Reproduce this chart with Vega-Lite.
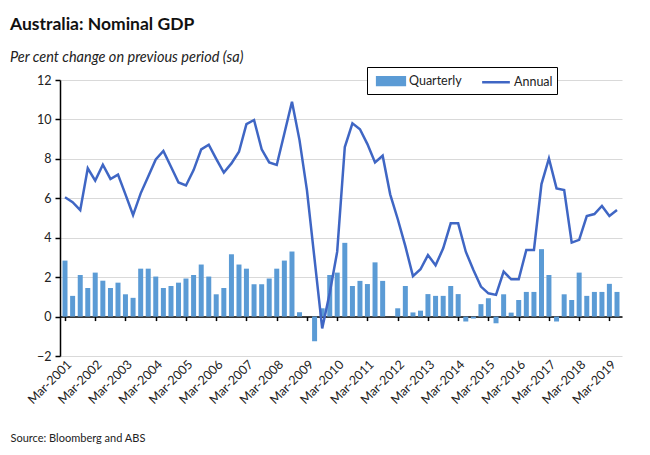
{
  "$schema": "https://vega.github.io/schema/vega-lite/v6.json",
  "autosize": "none",
  "width": 562,
  "height": 276,
  "padding": {"left": 60, "top": 80, "right": 28, "bottom": 99},
  "background": "white",
  "config": {
    "view": {"stroke": null},
    "font": "Lato"
  },
  "title": {
    "text": "Australia: Nominal GDP",
    "subtitle": "Per cent change on previous period (sa)",
    "anchor": "start",
    "frame": "group",
    "dx": -50,
    "offset": 2,
    "font": "Lato",
    "fontSize": 17.5,
    "fontWeight": "bold",
    "color": "#111111",
    "subtitleFont": "Lato",
    "subtitleFontSize": 14.5,
    "subtitleFontStyle": "italic",
    "subtitleColor": "#222222",
    "subtitlePadding": 18
  },
  "data": {
    "values": [
      {"date": "2001-03-01", "quarterly": 2.84, "annual": 6.05},
      {"date": "2001-06-01", "quarterly": 1.05, "annual": 5.8},
      {"date": "2001-09-01", "quarterly": 2.11, "annual": 5.4},
      {"date": "2001-12-01", "quarterly": 1.45, "annual": 7.52},
      {"date": "2002-03-01", "quarterly": 2.23, "annual": 6.9},
      {"date": "2002-06-01", "quarterly": 1.82, "annual": 7.7},
      {"date": "2002-09-01", "quarterly": 1.45, "annual": 6.98},
      {"date": "2002-12-01", "quarterly": 1.72, "annual": 7.2},
      {"date": "2003-03-01", "quarterly": 1.13, "annual": 6.2},
      {"date": "2003-06-01", "quarterly": 0.95, "annual": 5.15},
      {"date": "2003-09-01", "quarterly": 2.43, "annual": 6.25},
      {"date": "2003-12-01", "quarterly": 2.43, "annual": 7.1},
      {"date": "2004-03-01", "quarterly": 2.03, "annual": 7.97},
      {"date": "2004-06-01", "quarterly": 1.45, "annual": 8.4},
      {"date": "2004-09-01", "quarterly": 1.55, "annual": 7.6},
      {"date": "2004-12-01", "quarterly": 1.72, "annual": 6.8},
      {"date": "2005-03-01", "quarterly": 1.93, "annual": 6.65},
      {"date": "2005-06-01", "quarterly": 2.11, "annual": 7.43},
      {"date": "2005-09-01", "quarterly": 2.64, "annual": 8.48},
      {"date": "2005-12-01", "quarterly": 2.03, "annual": 8.72},
      {"date": "2006-03-01", "quarterly": 1.13, "annual": 8.0},
      {"date": "2006-06-01", "quarterly": 1.45, "annual": 7.3},
      {"date": "2006-09-01", "quarterly": 3.16, "annual": 7.77},
      {"date": "2006-12-01", "quarterly": 2.64, "annual": 8.36},
      {"date": "2007-03-01", "quarterly": 2.43, "annual": 9.76},
      {"date": "2007-06-01", "quarterly": 1.64, "annual": 9.97},
      {"date": "2007-09-01", "quarterly": 1.64, "annual": 8.48},
      {"date": "2007-12-01", "quarterly": 1.93, "annual": 7.82},
      {"date": "2008-03-01", "quarterly": 2.43, "annual": 7.69},
      {"date": "2008-06-01", "quarterly": 2.84, "annual": 9.29},
      {"date": "2008-09-01", "quarterly": 3.3, "annual": 10.9},
      {"date": "2008-12-01", "quarterly": 0.22, "annual": 8.95},
      {"date": "2009-03-01", "quarterly": 0.0, "annual": 6.4},
      {"date": "2009-06-01", "quarterly": -1.25, "annual": 2.9},
      {"date": "2009-09-01", "quarterly": 0.42, "annual": -0.6},
      {"date": "2009-12-01", "quarterly": 2.11, "annual": 1.2},
      {"date": "2010-03-01", "quarterly": 2.23, "annual": 3.29},
      {"date": "2010-06-01", "quarterly": 3.74, "annual": 8.6},
      {"date": "2010-09-01", "quarterly": 1.55, "annual": 9.8},
      {"date": "2010-12-01", "quarterly": 1.81, "annual": 9.5},
      {"date": "2011-03-01", "quarterly": 1.65, "annual": 8.75},
      {"date": "2011-06-01", "quarterly": 2.75, "annual": 7.82},
      {"date": "2011-09-01", "quarterly": 1.81, "annual": 8.16},
      {"date": "2011-12-01", "quarterly": 0.0, "annual": 6.2},
      {"date": "2012-03-01", "quarterly": 0.42, "annual": 4.95},
      {"date": "2012-06-01", "quarterly": 1.55, "annual": 3.57},
      {"date": "2012-09-01", "quarterly": 0.21, "annual": 2.05},
      {"date": "2012-12-01", "quarterly": 0.3, "annual": 2.4},
      {"date": "2013-03-01", "quarterly": 1.14, "annual": 3.12},
      {"date": "2013-06-01", "quarterly": 1.05, "annual": 2.6},
      {"date": "2013-09-01", "quarterly": 1.05, "annual": 3.46},
      {"date": "2013-12-01", "quarterly": 1.55, "annual": 4.73},
      {"date": "2014-03-01", "quarterly": 1.14, "annual": 4.73},
      {"date": "2014-06-01", "quarterly": -0.25, "annual": 3.29},
      {"date": "2014-09-01", "quarterly": -0.1, "annual": 2.36},
      {"date": "2014-12-01", "quarterly": 0.63, "annual": 1.52},
      {"date": "2015-03-01", "quarterly": 0.93, "annual": 1.18},
      {"date": "2015-06-01", "quarterly": -0.34, "annual": 1.1},
      {"date": "2015-09-01", "quarterly": 1.13, "annual": 2.28},
      {"date": "2015-12-01", "quarterly": 0.2, "annual": 1.89},
      {"date": "2016-03-01", "quarterly": 0.84, "annual": 1.89},
      {"date": "2016-06-01", "quarterly": 1.25, "annual": 3.38},
      {"date": "2016-09-01", "quarterly": 1.25, "annual": 3.38},
      {"date": "2016-12-01", "quarterly": 3.42, "annual": 6.72},
      {"date": "2017-03-01", "quarterly": 2.11, "annual": 8.02},
      {"date": "2017-06-01", "quarterly": -0.25, "annual": 6.5},
      {"date": "2017-09-01", "quarterly": 1.13, "annual": 6.42},
      {"date": "2017-12-01", "quarterly": 0.84, "annual": 3.75},
      {"date": "2018-03-01", "quarterly": 2.23, "annual": 3.89},
      {"date": "2018-06-01", "quarterly": 1.05, "annual": 5.1},
      {"date": "2018-09-01", "quarterly": 1.25, "annual": 5.2},
      {"date": "2018-12-01", "quarterly": 1.25, "annual": 5.61},
      {"date": "2019-03-01", "quarterly": 1.66, "annual": 5.1},
      {"date": "2019-06-01", "quarterly": 1.25, "annual": 5.41}
    ]
  },
  "layer": [
    {
      "mark": {"type": "bar", "size": 5, "clip": true},
      "encoding": {
        "x": {
          "field": "date",
          "type": "temporal",
          "scale": {
            "type": "utc",
            "nice": false,
            "domain": [
              {"year": 2001, "month": "mar", "date": 1, "utc": true},
              {"year": 2019, "month": "jun", "date": 1, "utc": true}
            ]
          },
          "axis": {
            "orient": "bottom",
            "tickCount": 30,
            "values": [
              {"year": 2001, "month": "mar", "date": 1, "utc": true},
              {"year": 2002, "month": "mar", "date": 1, "utc": true},
              {"year": 2003, "month": "mar", "date": 1, "utc": true},
              {"year": 2004, "month": "mar", "date": 1, "utc": true},
              {"year": 2005, "month": "mar", "date": 1, "utc": true},
              {"year": 2006, "month": "mar", "date": 1, "utc": true},
              {"year": 2007, "month": "mar", "date": 1, "utc": true},
              {"year": 2008, "month": "mar", "date": 1, "utc": true},
              {"year": 2009, "month": "mar", "date": 1, "utc": true},
              {"year": 2010, "month": "mar", "date": 1, "utc": true},
              {"year": 2011, "month": "mar", "date": 1, "utc": true},
              {"year": 2012, "month": "mar", "date": 1, "utc": true},
              {"year": 2013, "month": "mar", "date": 1, "utc": true},
              {"year": 2014, "month": "mar", "date": 1, "utc": true},
              {"year": 2015, "month": "mar", "date": 1, "utc": true},
              {"year": 2016, "month": "mar", "date": 1, "utc": true},
              {"year": 2017, "month": "mar", "date": 1, "utc": true},
              {"year": 2018, "month": "mar", "date": 1, "utc": true},
              {"year": 2019, "month": "mar", "date": 1, "utc": true}
            ],
            "format": "%b-%Y",
            "labelAngle": -45,
            "labelAlign": "right",
            "labelBaseline": "middle",
            "labelFont": "Lato",
            "labelFontSize": 12.5,
            "labelColor": "#222222",
            "labelPadding": 6,
            "labelOffset": 4,
            "labelOverlap": false,
            "labelFlush": false,
            "domain": false,
            "ticks": false,
            "grid": false,
            "title": "Source: Bloomberg and ABS",
            "titleFont": "Lato",
            "titleFontSize": 11,
            "titleFontWeight": "normal",
            "titleColor": "#222222",
            "titleAnchor": "start",
            "titleAlign": "left",
            "titleBaseline": "alphabetic",
            "titleX": -50,
            "titleY": 85
          }
        },
        "y": {
          "field": "quarterly",
          "type": "quantitative",
          "scale": {"domain": [-2, 12], "nice": false, "zero": false},
          "axis": {
            "values": [-2, 0, 2, 4, 6, 8, 10, 12],
            "tickCount": 10,
            "title": null,
            "grid": true,
            "gridColor": "#d9d9d9",
            "gridWidth": 1,
            "domain": true,
            "domainColor": "#000000",
            "domainWidth": 1.5,
            "ticks": true,
            "tickColor": "#000000",
            "tickSize": 5,
            "tickWidth": 1.5,
            "labelFont": "Lato",
            "labelFontSize": 12.5,
            "labelColor": "#222222",
            "labelPadding": 4,
            "labelOverlap": false,
            "labelFlush": false
          }
        },
        "color": {
          "datum": "Quarterly",
          "type": "nominal",
          "scale": {"domain": ["Quarterly", "Annual"], "range": ["#5b9bd5", "#3f66c4"]},
          "legend": {
            "orient": "none",
            "legendX": 307,
            "legendY": -13,
            "direction": "horizontal",
            "title": null,
            "strokeColor": "#000000",
            "fillColor": "#ffffff",
            "padding": 4,
            "symbolSize": 300,
            "labelFont": "Lato",
            "labelFontSize": 12.5,
            "labelColor": "#222222",
            "labelOffset": 8,
            "columnPadding": 14,
            "symbolOffset": 10,
            "encode": {
              "symbols": {
                "update": {
                  "shape": {"signal": "datum.value === 'Quarterly' ? 'M-1.6,-0.45H1.6V0.45H-1.6Z' : 'M-1.6,0H1.6'"},
                  "fill": {"signal": "datum.value === 'Quarterly' ? '#5b9bd5' : 'transparent'"},
                  "stroke": {"signal": "datum.value === 'Quarterly' ? 'transparent' : '#3f66c4'"},
                  "strokeWidth": {"value": 2.5},
                  "opacity": {"value": 1}
                }
              }
            }
          }
        }
      }
    },
    {
      "mark": {"type": "line", "strokeWidth": 2.5, "clip": true},
      "encoding": {
        "x": {
          "field": "date",
          "type": "temporal",
          "axis": {
            "orient": "bottom",
            "offset": -39.43,
            "tickCount": 30,
            "values": [
              {"year": 2001, "month": "mar", "date": 1, "utc": true},
              {"year": 2002, "month": "mar", "date": 1, "utc": true},
              {"year": 2003, "month": "mar", "date": 1, "utc": true},
              {"year": 2004, "month": "mar", "date": 1, "utc": true},
              {"year": 2005, "month": "mar", "date": 1, "utc": true},
              {"year": 2006, "month": "mar", "date": 1, "utc": true},
              {"year": 2007, "month": "mar", "date": 1, "utc": true},
              {"year": 2008, "month": "mar", "date": 1, "utc": true},
              {"year": 2009, "month": "mar", "date": 1, "utc": true},
              {"year": 2010, "month": "mar", "date": 1, "utc": true},
              {"year": 2011, "month": "mar", "date": 1, "utc": true},
              {"year": 2012, "month": "mar", "date": 1, "utc": true},
              {"year": 2013, "month": "mar", "date": 1, "utc": true},
              {"year": 2014, "month": "mar", "date": 1, "utc": true},
              {"year": 2015, "month": "mar", "date": 1, "utc": true},
              {"year": 2016, "month": "mar", "date": 1, "utc": true},
              {"year": 2017, "month": "mar", "date": 1, "utc": true},
              {"year": 2018, "month": "mar", "date": 1, "utc": true},
              {"year": 2019, "month": "mar", "date": 1, "utc": true}
            ],
            "labels": false,
            "grid": false,
            "domain": true,
            "domainColor": "#000000",
            "domainWidth": 1.5,
            "ticks": true,
            "tickColor": "#000000",
            "tickSize": 4,
            "tickWidth": 1.5,
            "title": null
          }
        },
        "y": {"field": "annual", "type": "quantitative"},
        "color": {"datum": "Annual", "type": "nominal"}
      }
    }
  ],
  "resolve": {"axis": {"x": "independent"}}
}
